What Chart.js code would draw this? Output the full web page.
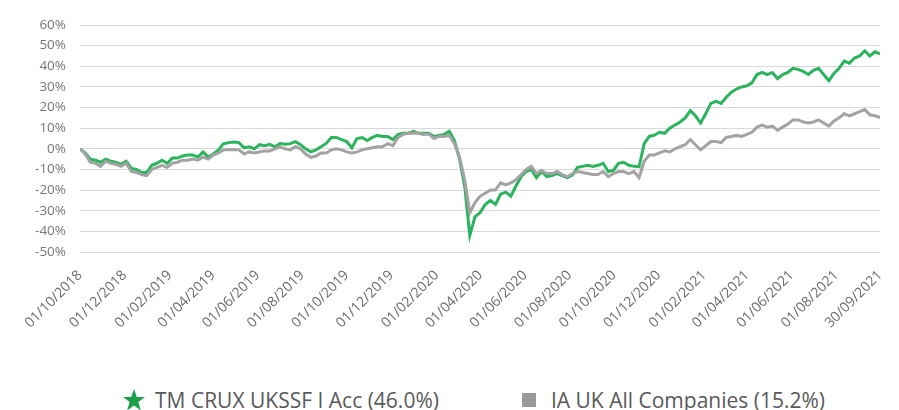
<!DOCTYPE html>
<html>
<head>
<meta charset="utf-8">
<script src="https://cdn.jsdelivr.net/npm/chart.js@4.4.1/dist/chart.umd.min.js"></script>
<style>
  body { margin: 0; background: #fff; }
  #wrap { position: relative; width: 899px; height: 410px; overflow: hidden; }
  #legend { position: absolute; left: 122px; top: 386px; display: flex;
            font-family: "Open Sans", sans-serif; font-size: 21px; line-height: 28px; color: #595959; }
  #legend .item { display: flex; align-items: center; white-space: nowrap; }
  #legend .item + .item { margin-left: 83px; }
</style>
</head>
<body>
<div id="wrap">
  <canvas id="mycanvas" width="899" height="375"></canvas>
  <div id="legend"></div>
</div>
<script>
// weekly readings, 01/10/2018 -> 30/09/2021 (cumulative %)
var fundName = 'TM CRUX UKSSF I Acc (46.0%)';
var sectorName = 'IA UK All Companies (15.2%)';

var fund = [0, -2, -5, -5.5, -6.5, -5, -6, -6.5, -7.5, -6, -9.5, -10, -11.5, -11.5, -8, -7, -5.5, -7, -4.5, -4.5,
  -3.5, -3, -3, -4, -1.5, -4, -2.5, -0.5, 2.5, 3, 3.3, 3, 0.5, 1, 0, 2, 1.5, 2.2, 1, 2.6,
  2.2, 2.5, 3.5, 2, 0, -1.5, -0.5, 1, 2.6, 5.5, 5.5, 4.5, 3.5, 0.5, 5, 5.5, 4, 5.5, 6.5, 6,
  6, 4.5, 7, 7.5, 7.5, 8.5, 7.5, 7.5, 7.5, 6, 6.5, 7, 8.5, 4, -5, -18, -42, -33, -31, -27,
  -25, -27, -22, -21, -23, -18, -13.5, -11, -10, -14, -11, -13.5, -13, -12, -13, -14, -12.7, -9, -8.5, -8,
  -8.5, -8, -7, -11, -10.5, -7, -6.5, -8, -8.5, -8.7, 2.5, 6, 6.6, 8, 7.5, 10, 11.5, 13, 15, 18.5,
  16, 12.5, 17, 22, 23, 22, 25, 27.5, 29, 30, 30.5, 32, 36, 37, 36, 37, 34, 36, 37, 39,
  38.5, 37.5, 36, 38, 39, 36, 33, 36.5, 39, 42.5, 41.5, 44, 45, 47.5, 45, 47, 46];

var sector = [0, -2.5, -6.5, -7, -8.5, -6, -7, -7.5, -8.5, -7, -11, -11.5, -12.5, -13, -10, -9, -8, -9, -7, -6.5,
  -5.5, -5.5, -5, -5.5, -4, -5, -3, -2, -0.5, -0.5, -0.3, -0.5, -2.5, -1.5, -2, -1.5, -1, -1, 0, 1,
  0, -0.5, 1, 0, -2.5, -4.2, -3.5, -2, -2, -0.5, 0, -0.5, -1.5, -2, -1.5, -0.5, 0, 0.5, 1, 1,
  2.5, 1.5, 5.5, 7, 7.5, 7.7, 7.5, 7, 7.2, 5, 6, 6, 6.5, 2.5, -4, -15, -31, -26, -23, -21.5,
  -20, -20, -16.5, -17.5, -16.5, -15, -12.5, -10, -8.5, -12, -10.5, -12, -12, -11, -12.5, -13.5, -12, -11, -11.5, -12,
  -12.5, -12.5, -11, -13.5, -12, -11, -11, -12, -11, -14, -6, -3, -3, -2, -1, -1.5, 0, 1, 2, 4.5,
  2, -0.5, 1.5, 3.5, 3.5, 3, 5.5, 6, 6.5, 6, 7, 8, 10.5, 11.5, 10.5, 11, 9, 10.5, 12, 14,
  14, 13, 12.5, 13, 14, 12.5, 11, 13.5, 15, 17, 16, 17, 18, 19, 16.5, 16, 15.2];

var tickLabels = ['01/10/2018', '01/12/2018', '01/02/2019', '01/04/2019', '01/06/2019', '01/08/2019',
  '01/10/2019', '01/12/2019', '01/02/2020', '01/04/2020', '01/06/2020', '01/08/2020',
  '01/10/2020', '01/12/2020', '01/02/2021', '01/04/2021', '01/06/2021', '01/08/2021', '30/09/2021'];

function dayOf(s) {
  var p = s.split('/');
  return Math.round((Date.UTC(+p[2], +p[1] - 1, +p[0]) - Date.UTC(2018, 9, 1)) / 86400000);
}
var tickDays = tickLabels.map(dayOf);
var lastDay = tickDays[tickDays.length - 1];

function toPoints(arr) {
  return arr.map(function (v, i) { return { x: i * lastDay / (arr.length - 1), y: v }; });
}

var green = '#2bb35e';
var grey = '#a3a3a3';

var chart = new Chart(document.getElementById('mycanvas'), {
  type: 'line',
  data: {
    datasets: [
      { label: fundName, data: toPoints(fund), borderColor: green, borderWidth: 3, pointRadius: 0, order: 2 },
      { label: sectorName, data: toPoints(sector), borderColor: grey, borderWidth: 3, pointRadius: 0, order: 1 }
    ]
  },
  options: {
    responsive: false,
    animation: false,
    layout: { padding: { top: 25, right: 7, left: 0, bottom: 0 } },
    plugins: { legend: { display: false }, tooltip: { enabled: false } },
    scales: {
      x: {
        type: 'linear',
        min: 0,
        max: lastDay,
        grid: { display: false },
        border: { display: false },
        afterBuildTicks: function (s) { s.ticks = tickDays.map(function (d) { return { value: d }; }); },
        afterFit: function (s) { s.height = 123; },
        ticks: {
          autoSkip: false, minRotation: 45, maxRotation: 45, color: '#6b6b6b', padding: 7,
          font: { family: '"Open Sans", sans-serif', size: 14 },
          callback: function (v) { var k = tickDays.indexOf(v); return k < 0 ? '' : tickLabels[k]; }
        }
      },
      y: {
        min: -50,
        max: 60,
        grid: { color: '#d9d9d9', drawTicks: false },
        border: { display: false },
        afterFit: function (s) { s.width = 80; },
        ticks: {
          stepSize: 10, padding: 14, color: '#777', font: { family: '"Open Sans", sans-serif', size: 13.5 },
          callback: function (v) { return v + '%'; }
        }
      }
    }
  }
});

// legend built from the datasets
var legend = document.getElementById('legend');
chart.data.datasets.forEach(function (ds, i) {
  var item = document.createElement('div');
  item.className = 'item';
  var sym = i === 0
    ? '<svg width="24" height="24" viewBox="0 0 24 24" style="margin-right:9px"><polygon fill="#1c9e4b" points="12,1 14.8,9 23,9 16.4,14 18.8,22.5 12,17.4 5.2,22.5 7.6,14 1,9 9.2,9"/></svg>'
    : '<svg width="14" height="14" style="margin-right:15px"><rect width="14" height="14" fill="#999"/></svg>';
  item.innerHTML = sym + '<span>' + ds.label + '</span>';
  legend.appendChild(item);
});
</script>
</body>
</html>
